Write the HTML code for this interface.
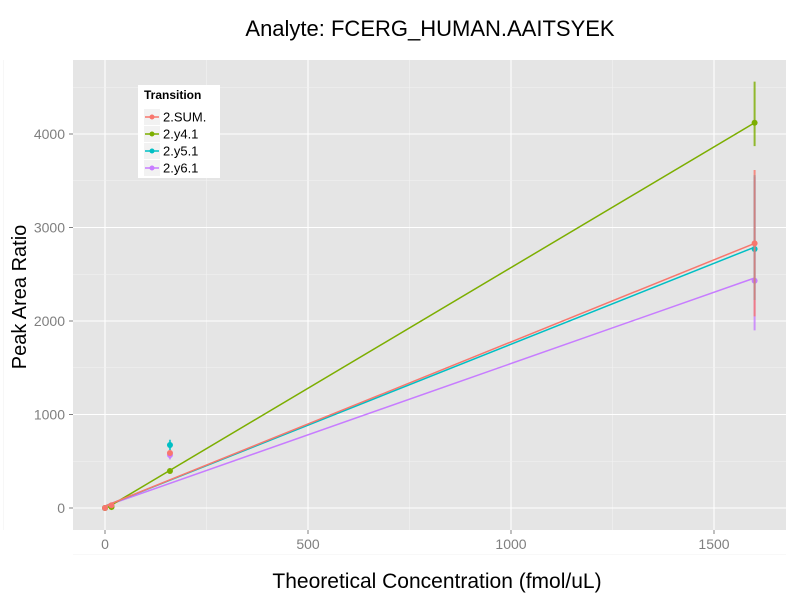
<!DOCTYPE html>
<html><head><meta charset="utf-8"><style>
body{margin:0;background:#fff;font-family:"Liberation Sans",sans-serif}
</style></head><body>
<svg id="c" width="800" height="600" xmlns="http://www.w3.org/2000/svg" font-family="Liberation Sans, sans-serif"></svg>
<script>
const xTicks=[0,500,1000,1500];
const yTicks=[0,1000,2000,3000,4000];
const series=["2.SUM.","2.y4.1","2.y5.1","2.y6.1"];
const colors=["#F8766D","#7CAE00","#00BFC4","#C77CFF"];
const conc=[0,16,160,1600];
const means=[[0,30,588,2830],[0,10,396,4120],[0,20,674,2770],[0,15,567,2430]];
const lows=[[0,20,560,2050],[0,5,370,3870],[0,10,620,2225],[0,8,520,1900]];
const highs=[[0,40,615,3615],[0,15,420,4560],[0,30,730,3560],[0,22,610,3540]];
const fitStart=[20,-10,20,20];
const fitEnd=[2830,4120,2790,2460];
const ns="http://www.w3.org/2000/svg";
const svg=document.getElementById('c');
const L=73,R=786,T=60,B=530;
const X=v=>105+v*(714-105)/1500;
const Y=v=>508-v*(508-134)/4000;
function el(t,a,p){const e=document.createElementNS(ns,t);for(const k in a)e.setAttribute(k,a[k]);(p||svg).appendChild(e);return e;}
const panel=el('rect',{x:L,y:T,width:R-L,height:B-T,fill:'#E5E5E5'});

const grid=el('g',{});
for(let i=0;i<xTicks.length;i++){const v=xTicks[i];el('line',{x1:X(v),x2:X(v),y1:T,y2:B,stroke:'#fff','stroke-width':1.1},grid);
 if(i<xTicks.length-1){const m=(v+xTicks[i+1])/2;el('line',{x1:X(m),x2:X(m),y1:T,y2:B,stroke:'#F2F2F2','stroke-width':0.6},grid);}}
el('line',{x1:X(-250),x2:X(-250),y1:T,y2:B,stroke:'#F2F2F2','stroke-width':0.6},grid);
for(let i=0;i<yTicks.length;i++){const v=yTicks[i];el('line',{x1:L,x2:R,y1:Y(v),y2:Y(v),stroke:'#fff','stroke-width':1.1},grid);
 const m=v+500;el('line',{x1:L,x2:R,y1:Y(m),y2:Y(m),stroke:'#F2F2F2','stroke-width':0.6},grid);}
el('line',{x1:L,x2:R,y1:Y(-500),y2:Y(-500),stroke:'#F2F2F2','stroke-width':0.6},grid);
const xa=el('g',{});
xTicks.forEach(v=>{el('line',{x1:X(v),x2:X(v),y1:B,y2:B+4,stroke:'#7F7F7F'},xa);const t=el('text',{x:X(v),y:B+19,'text-anchor':'middle','font-size':14,fill:'#7F7F7F'},xa);t.textContent=v;});
const ya=el('g',{});
yTicks.forEach(v=>{el('line',{x1:L-4,x2:L,y1:Y(v),y2:Y(v),stroke:'#7F7F7F'},ya);const t=el('text',{x:L-8,y:Y(v)+5,'text-anchor':'end','font-size':14,fill:'#7F7F7F'},ya);t.textContent=v;});
for(let i=series.length-1;i>=0;i--){const s=series[i];const g=el('g',{});
 el('line',{x1:X(conc[0]),x2:X(conc[3]),y1:Y(fitStart[i]),y2:Y(fitEnd[i]),stroke:colors[i],'stroke-width':1.5},g);
 conc.forEach((c,j)=>{el('line',{x1:X(c),x2:X(c),y1:Y(lows[i][j]),y2:Y(highs[i][j]),stroke:colors[i],'stroke-width':2,opacity:0.8},g);
  el('circle',{cx:X(c),cy:Y(means[i][j]),r:3,fill:colors[i]},g);});}
const title=el('text',{x:430,y:36,'text-anchor':'middle','font-size':22});title.textContent='Analyte: FCERG_HUMAN.AAITSYEK';

const xt=el('text',{x:437,y:588,'text-anchor':'middle','font-size':21});xt.textContent='Theoretical Concentration (fmol/uL)';

const yt=el('text',{x:0,y:0,'text-anchor':'middle','font-size':20,transform:'translate(26,297) rotate(-90)'});yt.textContent='Peak Area Ratio';

const lg=el('g',{});
el('rect',{x:138,y:85,width:82,height:93,fill:'#fff'},lg);
const lt=el('text',{x:144,y:99,'font-size':12,'font-weight':'bold'},lg);lt.textContent='Transition';
series.forEach((s,i)=>{const e=el('g',{},lg);
 const y=117+i*17;el('rect',{x:144,y:y-8,width:16,height:16,fill:'#F2F2F2'},e);
 el('line',{x1:145,x2:159,y1:y,y2:y,stroke:colors[i],'stroke-width':1.5},e);
 el('circle',{cx:152,cy:y,r:2.5,fill:colors[i]},e);
 const t=el('text',{x:163,y:y+4.5,'font-size':13},e);t.textContent=s;});
</script>
</body></html>
